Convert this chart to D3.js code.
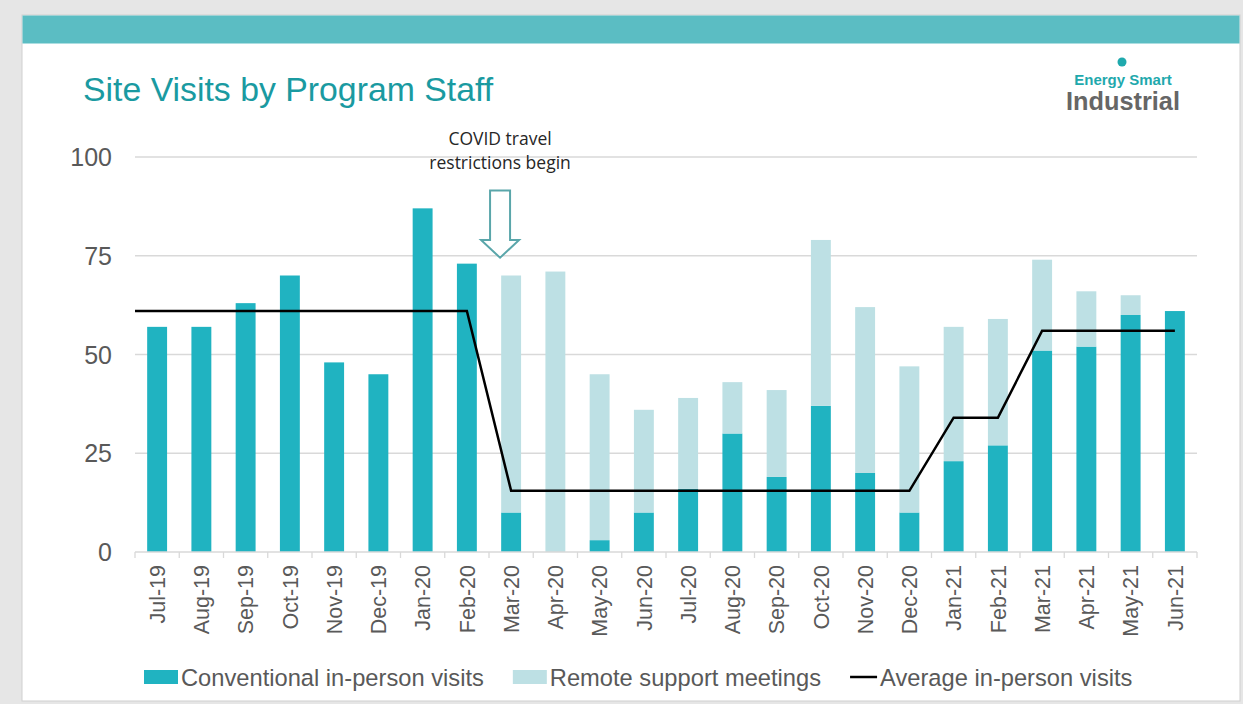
<!DOCTYPE html>
<html>
<head>
  <meta charset="utf-8">
  <title>Site Visits by Program Staff</title>
  <script src="https://d3js.org/d3.v7.min.js"></script>
  <style>
    body { margin: 0; background: #e6e6e6; }
    svg { display: block; font-family: "Liberation Sans", Arial, sans-serif; }
  </style>
</head>
<body>
<svg class="chart" width="1243" height="704"></svg>

<script>
var months = ["Jul-19", "Aug-19", "Sep-19", "Oct-19", "Nov-19", "Dec-19", "Jan-20", "Feb-20",
  "Mar-20", "Apr-20", "May-20", "Jun-20", "Jul-20", "Aug-20", "Sep-20", "Oct-20", "Nov-20",
  "Dec-20", "Jan-21", "Feb-21", "Mar-21", "Apr-21", "May-21", "Jun-21"];
var conventional = [57, 57, 63, 70, 48, 45, 87, 73, 10, 0, 3, 10, 16, 30, 19, 37, 20, 10, 23, 27, 51, 52, 60, 61];
var remote = [0, 0, 0, 0, 0, 0, 0, 0, 60, 71, 42, 26, 23, 13, 22, 42, 42, 37, 34, 32, 23, 14, 5, 0];
var average = [61, 61, 61, 61, 61, 61, 61, 61, 15.5, 15.5, 15.5, 15.5, 15.5, 15.5, 15.5, 15.5, 15.5, 15.5,
  34, 34, 56, 56, 56, 56];
var yTicks = [0, 25, 50, 75, 100];
var seriesNames = ["Conventional in-person visits", "Remote support meetings", "Average in-person visits"];

var darkTeal = "#20b3c1", lightTeal = "#bde0e4", grey = "#595959";

var svg = d3.select(".chart");

// slide panel
svg.append("rect").attr("x", 22).attr("y", 15).attr("width", 1218).attr("height", 686)
  .attr("fill", "#fff").attr("stroke", "#cfcfcf");
svg.append("rect").attr("x", 22.5).attr("y", 15.5).attr("width", 1217).attr("height", 28)
  .attr("fill", "#5bbdc3");

svg.append("text").attr("x", 83).attr("y", 101)
  .attr("fill", "#1a9aa1").style("font-size", "33.8px")
  .text("Site Visits by Program Staff");

// logo
svg.append("circle").attr("cx", 1122).attr("cy", 62).attr("r", 4.5).attr("fill", "#1fa9ad");
svg.append("text").attr("x", 1123).attr("y", 85).attr("text-anchor", "middle")
  .attr("fill", "#1fa9ad").style("font-size", "15px").style("font-weight", "bold")
  .text("Energy Smart");
svg.append("text").attr("x", 1123).attr("y", 110).attr("text-anchor", "middle")
  .attr("fill", "#666").style("font-size", "25.3px").style("font-weight", "bold")
  .text("Industrial");

var x = d3.scaleBand().domain(months).range([135, 1197]);
var y = d3.scaleLinear().domain([0, 100]).range([552, 157]);
var barW = x.bandwidth() * 0.45;

// gridlines
svg.append("g").selectAll("line").data(yTicks.slice(1)).enter().append("line")
  .attr("x1", 135).attr("x2", 1197)
  .attr("y1", function(d) { return y(d); }).attr("y2", function(d) { return y(d); })
  .attr("stroke", "#d9d9d9").attr("stroke-width", 1.3);

svg.append("g").selectAll("text").data(yTicks).enter().append("text")
  .attr("x", 112).attr("y", function(d) { return y(d); }).attr("dy", "0.36em")
  .attr("text-anchor", "end").attr("fill", grey).style("font-size", "25px")
  .text(function(d) { return d; });

// stacked bars
var g = svg.append("g");
g.selectAll(".conv").data(months).enter().append("rect")
  .attr("x", function(d) { return x(d) + (x.bandwidth() - barW) / 2; })
  .attr("y", function(d, i) { return y(conventional[i]); })
  .attr("width", barW)
  .attr("height", function(d, i) { return y(0) - y(conventional[i]); })
  .attr("fill", darkTeal);
g.selectAll(".rem").data(months).enter().append("rect")
  .attr("x", function(d) { return x(d) + (x.bandwidth() - barW) / 2; })
  .attr("y", function(d, i) { return y(conventional[i] + remote[i]); })
  .attr("width", barW)
  .attr("height", function(d, i) { return y(conventional[i]) - y(conventional[i] + remote[i]); })
  .attr("fill", lightTeal);

// x axis
var xAxis = svg.append("g").attr("transform", "translate(0," + y(0) + ")");
xAxis.append("line").attr("x1", 135).attr("x2", 1197).attr("stroke", "#d9d9d9").attr("stroke-width", 1.3);
xAxis.selectAll(".tick").data(months.concat([null])).enter().append("line")
  .attr("x1", function(d) { return d ? x(d) : x.range()[1]; })
  .attr("x2", function(d) { return d ? x(d) : x.range()[1]; })
  .attr("y1", 0).attr("y2", 6).attr("stroke", "#d9d9d9").attr("stroke-width", 1.3);
xAxis.selectAll("text").data(months).enter().append("text")
  .attr("transform", function(d) { return "translate(" + (x(d) + x.bandwidth() / 2) + ",13) rotate(-90)"; })
  .attr("dy", "0.36em").attr("text-anchor", "end")
  .attr("fill", grey).style("font-size", "21.5px")
  .text(function(d) { return d; });

// average line, starting at the plot's left edge
var linePts = [[x.range()[0], average[0]]].concat(months.map(function(d, i) {
  return [x(d) + x.bandwidth() / 2, average[i]];
}));
svg.append("path").datum(linePts)
  .attr("d", d3.line().x(function(d) { return d[0]; }).y(function(d) { return y(d[1]); }))
  .attr("fill", "none").attr("stroke", "#000").attr("stroke-width", 2.5);

// COVID annotation
var ax = x("Mar-20") + x.step() * 0.25;
svg.append("path")
  .attr("d", "M" + (ax - 10) + "," + y(91.5) + "H" + (ax + 10) + "V" + y(79) + "H" + (ax + 19) +
    "L" + ax + "," + y(74.5) + "L" + (ax - 19) + "," + y(79) + "H" + (ax - 10) + "Z")
  .attr("fill", "#fff").attr("stroke", "#5aa6aa").attr("stroke-width", 2);
svg.append("text").attr("x", ax).attr("y", 145).attr("text-anchor", "middle")
  .attr("fill", "#262626").style("font-family", "Open Sans").style("font-size", "17.5px")
  .selectAll("tspan").data(["COVID travel", "restrictions begin"]).enter().append("tspan")
  .attr("x", ax).attr("dy", function(d, i) { return i ? 24 : 0; })
  .text(function(d) { return d; });

// legend
var lx = 144, ly = 677;
var legend = svg.append("g");
seriesNames.forEach(function(name, i) {
  if (i < 2) {
    legend.append("rect").attr("x", lx).attr("y", ly - 7).attr("width", 34).attr("height", 14)
      .attr("fill", i ? lightTeal : darkTeal);
  } else {
    legend.append("line").attr("x1", lx).attr("x2", lx + 27).attr("y1", ly).attr("y2", ly)
      .attr("stroke", "#000").attr("stroke-width", 2.5);
  }
  var t = legend.append("text").attr("x", lx + (i < 2 ? 37 : 30)).attr("y", ly).attr("dy", "0.36em")
    .attr("fill", grey).style("font-size", "23.7px").text(name);
  lx += (i < 2 ? 37 : 30) + t.node().getComputedTextLength() + 29;
});
</script>
</body>
</html>
